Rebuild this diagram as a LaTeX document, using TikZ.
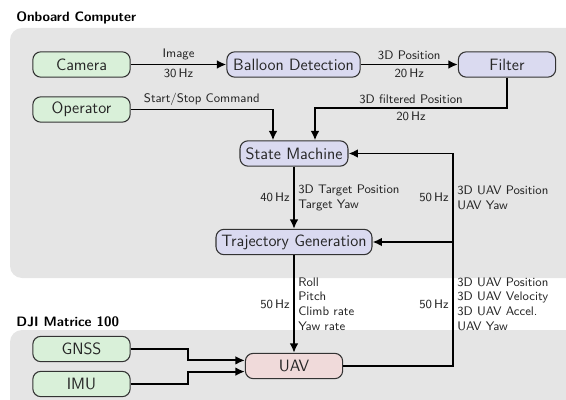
\documentclass[tikz,border=0pt]{standalone}
\usepackage{fontspec}
\usetikzlibrary{arrows.meta,calc}
\definecolor{bggray}{RGB}{229,229,229}
\definecolor{sensgreen}{RGB}{217,240,217}
\definecolor{proclav}{RGB}{218,218,240}
\definecolor{uavpink}{RGB}{240,218,218}
\begin{document}
\begin{tikzpicture}[x=0.75pt,y=-0.75pt,
  blk/.style={draw=black!80, line width=0.8pt, rounded corners=6pt,
    minimum height=19pt, inner xsep=2pt, inner ysep=2pt, text=black!85,
    font=\sffamily\fontsize{12.3}{14}\selectfont},
  sensor/.style={blk, fill=sensgreen, minimum width=73pt},
  proc/.style={blk, fill=proclav},
  plant/.style={blk, fill=uavpink, minimum width=73pt},
  arr/.style={line width=1.4pt, -{Latex[length=7pt,width=6.5pt]}},
  wire/.style={line width=1.4pt},
  lbl/.style={font=\sffamily\fontsize{9.3}{11}\selectfont, inner sep=2.5pt, text=black!85},
  grouptitle/.style={font=\sffamily\bfseries\fontsize{10.2}{12}\selectfont,
    anchor=west, inner sep=0pt}]

\useasboundingbox (0,0) rectangle (566,399);

% group backgrounds
\fill[bggray, rounded corners=9pt] (10,28) rectangle (600,278);
\fill[bggray, rounded corners=9pt] (10,330) rectangle (600,430);
\node[grouptitle] (tOnboard) at (16,18) {Onboard Computer};
\node[grouptitle] (tDji) at (16,322) {DJI Matrice 100};

% blocks
\node[sensor] (cam) at (81.5,64.5) {Camera};
\node[sensor] (op) at (81.5,109.5) {Operator};
\node[proc, minimum width=100pt] (bd) at (293.5,64.5) {Balloon Detection};
\node[proc, minimum width=73pt] (filt) at (507,64.5) {Filter};
\node[proc, minimum width=81pt] (sm) at (294,153.5) {State Machine};
\node[proc, minimum width=117pt] (tg) at (294,242) {Trajectory Generation};
\node[plant] (uav) at (294,366) {UAV};
\node[sensor] (gnss) at (81.5,349) {GNSS};
\node[sensor] (imu) at (81.5,384) {IMU};

% helper points for routed connectors
\coordinate (fbx) at (453,0);
\coordinate (filtknee) at (315,108);
\coordinate (opdrop) at (273,0);
\coordinate (merge) at (188,0);

% perception chain
\draw[arr] (cam) -- (bd)
  node[lbl, midway, above] {Image}
  node[lbl, midway, below] {30\,Hz};
\draw[arr] (bd) -- (filt)
  node[lbl, midway, above] {3D Position}
  node[lbl, midway, below] {20\,Hz};

% inputs to the state machine
\draw[arr] (op.east) -- (op.east -| opdrop)
  node[lbl, midway, above] {Start/Stop Command}
  -- (opdrop |- sm.north);
\draw[arr] (filt.south) |- (filtknee)
  node[lbl, pos=0.75, above] {3D filtered Position}
  node[lbl, pos=0.75, below] {20\,Hz}
  -- (filtknee |- sm.north);

% command chain
\draw[arr] (sm) -- (tg)
  node[lbl, midway, left] {40\,Hz}
  node[lbl, midway, right, align=left] {3D Target Position\\Target Yaw};
\draw[arr] (tg) -- (uav)
  node[lbl, midway, left] {50\,Hz}
  node[lbl, midway, right, align=left] {Roll\\Pitch\\Climb rate\\Yaw rate};

% state feedback
\draw[wire] (uav.east) -- (uav.east -| fbx)
  -- (tg.east -| fbx)
  node[lbl, midway, left] {50\,Hz}
  node[lbl, midway, right, align=left] {3D UAV Position\\3D UAV Velocity\\3D UAV Accel.\\UAV Yaw};
\draw[arr] (tg.east -| fbx) -- (sm.east -| fbx)
  node[lbl, midway, left] {50\,Hz}
  node[lbl, midway, right, align=left] {3D UAV Position\\UAV Yaw}
  -- (sm.east);
\draw[arr] (tg.east -| fbx) -- (tg.east);

% onboard sensors
\draw[arr] (gnss.east) -- (gnss.east -| merge)
  -- ([yshift=4.2pt]uav.west -| merge) -- ([yshift=4.2pt]uav.west);
\draw[arr] (imu.east) -- (imu.east -| merge)
  -- ([yshift=-4.2pt]uav.west -| merge) -- ([yshift=-4.2pt]uav.west);
\end{tikzpicture}
\end{document}
